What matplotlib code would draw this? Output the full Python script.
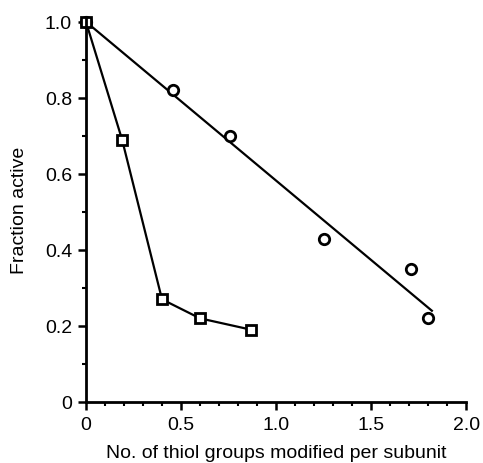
import numpy as np
import matplotlib.pyplot as plt
from matplotlib.ticker import MultipleLocator

# circles: points and fitted straight line
circ_x = [0.0, 0.46, 0.76, 1.25, 1.71, 1.80]
circ_y = [1.0, 0.82, 0.70, 0.43, 0.35, 0.22]
fit_x = [0.0, 1.82]
fit_y = [1.0, 0.24]

# squares: connected points
sq_x = [0.0, 0.19, 0.40, 0.60, 0.87]
sq_y = [1.0, 0.69, 0.27, 0.22, 0.19]

xticks = [0, 0.5, 1.0, 1.5, 2.0]
xticklabels = ['0', '0.5', '1.0', '1.5', '2.0']
yticks = [0, 0.2, 0.4, 0.6, 0.8, 1.0]
yticklabels = ['0', '0.2', '0.4', '0.6', '0.8', '1.0']

plt.rcParams['font.family'] = ['Liberation Sans', 'DejaVu Sans']
plt.rcParams['font.size'] = 14

fig = plt.figure(figsize=(4.83, 4.64), dpi=100)
ax = fig.add_axes([0.178, 0.1315, 0.787, 0.83])

ax.plot(fit_x, fit_y, color='black', lw=1.6)
ax.plot(circ_x, circ_y, 'o', ms=7.5, mfc='white', mec='black', mew=2, clip_on=False)
ax.plot(sq_x, sq_y, '-s', color='black', lw=1.6, ms=7, mfc='white', mec='black', mew=2, clip_on=False)

ax.set_xlim(0, 2.0)
ax.set_ylim(0, 1.013)
ax.spines['top'].set_visible(False)
ax.spines['right'].set_visible(False)
ax.spines['left'].set_linewidth(2)
ax.spines['bottom'].set_linewidth(2)

ax.set_xticks(xticks)
ax.set_xticklabels(xticklabels)
ax.set_yticks(yticks)
ax.set_yticklabels(yticklabels)
ax.xaxis.set_minor_locator(MultipleLocator(0.1))
ax.yaxis.set_minor_locator(MultipleLocator(0.1))
ax.tick_params(which='major', length=6, width=1.8, direction='out', pad=4)
ax.tick_params(which='minor', length=3, width=1.5, direction='out')

ax.set_xlabel('No. of thiol groups modified per subunit', labelpad=8)
ax.set_ylabel('Fraction active', labelpad=12)

plt.savefig('out.png', dpi=100)
